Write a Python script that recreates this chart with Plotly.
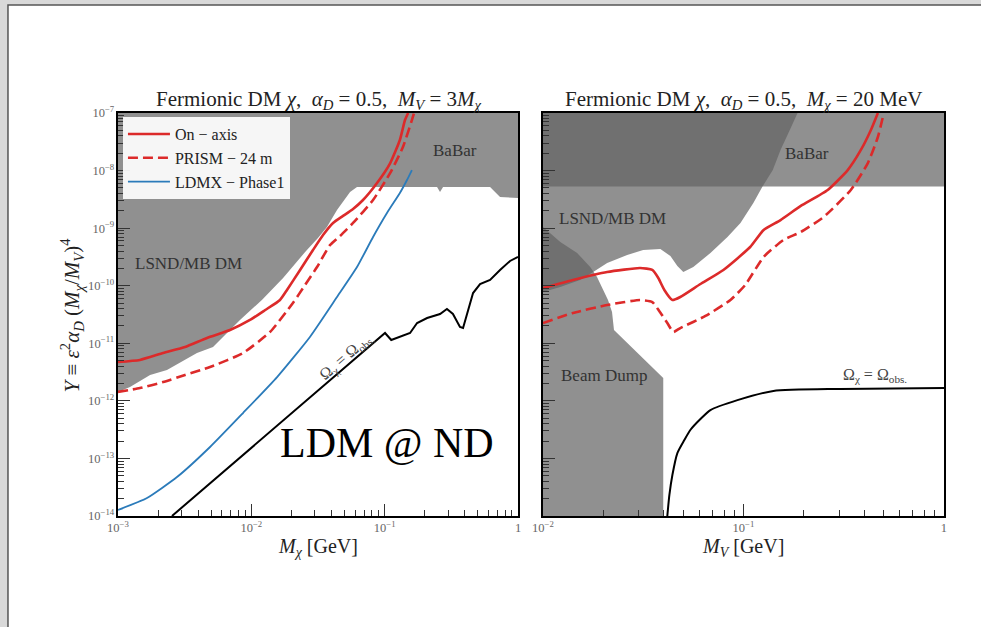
import plotly.graph_objects as go

# ---------------- Left panel: M_V = 3 M_chi ----------------
# Excluded region (LSND/MiniBooNE DM + BaBar), boundary polygon
excl_left_x = [1.0e-3, 1.23e-3, 1.74e-3, 2.33e-3, 3.91e-3, 5.16e-3, 8.22e-3, 1.20e-2,
               1.73e-2, 2.53e-2, 3.16e-2, 3.69e-2, 4.39e-2, 5.50e-2, 6.20e-2, 0.247,
               0.260, 0.274, 0.617, 0.733, 1.0, 1.0, 1.0e-3]
excl_left_y = [1.43e-12, 1.74e-12, 2.81e-12, 3.44e-12, 6.78e-12, 8.61e-12, 2.54e-11, 5.65e-11,
               1.36e-10, 3.85e-10, 6.75e-10, 1.05e-9, 2.07e-9, 4.25e-9, 5.19e-9, 5.19e-9,
               4.25e-9, 5.19e-9, 5.19e-9, 3.48e-9, 3.34e-9, 1.0e-7, 1.0e-7]

onaxis_left_x = [1.0e-3, 1.46e-3, 2.18e-3, 3.18e-3, 4.65e-3, 6.92e-3, 9.77e-3, 1.27e-2,
                 1.64e-2, 1.85e-2, 2.32e-2, 2.90e-2, 3.45e-2, 4.10e-2, 4.87e-2, 5.79e-2,
                 6.88e-2, 8.76e-2, 0.110, 0.130, 0.142, 0.150]
onaxis_left_y = [4.73e-12, 5.13e-12, 6.78e-12, 8.61e-12, 1.24e-11, 1.70e-11, 2.54e-11, 3.78e-11,
                 5.65e-11, 8.43e-11, 1.88e-10, 4.17e-10, 7.60e-10, 1.23e-9, 1.63e-9, 2.15e-9,
                 3.08e-9, 6.08e-9, 1.35e-8, 3.40e-8, 7.55e-8, 1.0e-7]

prism_left_x = [1.0e-3, 1.46e-3, 2.18e-3, 3.18e-3, 4.90e-3, 8.66e-3, 1.38e-2, 2.05e-2,
                2.53e-2, 3.11e-2, 3.89e-2, 4.62e-2, 5.79e-2, 8.18e-2, 0.110, 0.137,
                0.160, 0.166]
prism_left_y = [1.43e-12, 1.67e-12, 2.12e-12, 2.81e-12, 3.87e-12, 6.78e-12, 1.57e-11, 5.01e-11,
                1.03e-10, 2.11e-10, 5.09e-10, 7.29e-10, 1.23e-9, 3.08e-9, 9.08e-9, 2.56e-8,
                7.55e-8, 1.0e-7]

ldmx_x = [1.0e-3, 1.65e-3, 2.77e-3, 4.90e-3, 8.66e-3, 1.56e-2, 2.75e-2, 4.39e-2,
          6.20e-2, 8.18e-2, 0.104, 0.130, 0.147, 0.160]
ldmx_y = [1.27e-14, 2.05e-14, 4.75e-14, 1.58e-13, 6.15e-13, 2.59e-12, 1.29e-11, 6.37e-11,
          2.11e-10, 7.02e-10, 1.83e-9, 4.07e-9, 6.85e-9, 1.02e-8]

relic_left_x = [2.54e-3, 0.1006, 0.112, 0.130, 0.155, 0.175, 0.208, 0.260, 0.293,
                0.325, 0.367, 0.387, 0.415, 0.460, 0.519, 0.617, 0.733, 0.871, 1.0]
relic_left_y = [1.0e-14, 1.51e-11, 1.14e-11, 1.29e-11, 1.51e-11, 2.25e-11, 2.75e-11, 3.23e-11,
                3.94e-11, 3.23e-11, 1.92e-11, 1.84e-11, 3.36e-11, 7.46e-11, 1.07e-10, 1.26e-10,
                1.88e-10, 2.69e-10, 3.16e-10]

# ---------------- Right panel: M_chi = 20 MeV ----------------
babar_level = 5.3e-9
babar_right_x = [1.0e-2, 1.0, 1.0, 1.0e-2]
babar_right_y = [babar_level, babar_level, 1.0e-7, 1.0e-7]

lsnd_right_x = [1.0e-2, 1.0e-2, 1.22e-2, 1.53e-2, 1.78e-2, 2.09e-2, 2.63e-2, 3.16e-2, 3.85e-2,
                4.32e-2, 4.68e-2, 5.01e-2, 5.62e-2, 6.84e-2, 8.32e-2, 9.66e-2, 0.112, 0.124,
                0.140, 0.153, 0.172, 0.186]
lsnd_right_y = [1.0e-7, 7.78e-11, 9.51e-11, 1.26e-10, 1.73e-10, 2.48e-10, 3.41e-10, 4.17e-10,
                4.34e-10, 3.28e-10, 2.20e-10, 1.73e-10, 2.11e-10, 3.70e-10, 7.02e-10, 1.23e-9,
                2.74e-9, 5.19e-9, 1.02e-8, 2.28e-8, 5.48e-8, 1.0e-7]

beamdump_x = [1.0e-2, 1.22e-2, 1.48e-2, 1.72e-2, 1.86e-2, 2.0e-2, 2.11e-2, 2.21e-2, 2.26e-2,
              3.98e-2, 3.98e-2, 1.0e-2]
beamdump_y = [1.05e-9, 5.74e-10, 3.70e-10, 2.11e-10, 1.42e-10, 8.43e-11, 5.65e-11, 3.49e-11,
              1.70e-11, 2.49e-12, 1.0e-14, 1.0e-14]

onaxis_right_x = [1.0e-2, 1.41e-2, 2.09e-2, 3.05e-2, 3.51e-2, 3.76e-2, 4.03e-2, 4.42e-2,
                  4.84e-2, 6.10e-2, 7.94e-2, 0.108, 0.126, 0.153, 0.193, 0.263, 0.331,
                  0.385, 0.432, 0.468]
onaxis_right_y = [9.12e-11, 1.26e-10, 1.73e-10, 2.03e-10, 1.88e-10, 1.36e-10, 8.43e-11, 5.65e-11,
                  6.37e-11, 1.07e-10, 1.88e-10, 4.70e-10, 9.29e-10, 1.38e-9, 2.43e-9, 4.60e-9,
                  1.02e-8, 2.28e-8, 5.07e-8, 1.0e-7]

prism_right_x = [1.0e-2, 1.41e-2, 2.09e-2, 3.05e-2, 3.51e-2, 3.80e-2, 4.17e-2, 4.47e-2,
                 4.84e-2, 6.46e-2, 8.61e-2, 0.102, 0.126, 0.158, 0.193, 0.251, 0.343,
                 0.417, 0.468, 0.501]
prism_right_y = [2.25e-11, 3.36e-11, 4.62e-11, 5.65e-11, 5.21e-11, 3.64e-11, 2.25e-11, 1.57e-11,
                 1.84e-11, 2.98e-11, 5.65e-11, 1.03e-10, 3.16e-10, 6.22e-10, 8.57e-10, 1.56e-9,
                 4.60e-9, 1.35e-8, 3.83e-8, 1.0e-7]

relic_right_x = [4.17e-2, 4.27e-2, 4.42e-2, 4.68e-2, 5.07e-2, 5.43e-2, 6.10e-2, 6.84e-2,
                 9.33e-2, 0.141, 0.305, 1.0]
relic_right_y = [1.0e-14, 2.32e-14, 5.15e-14, 1.24e-13, 2.09e-13, 3.12e-13, 4.84e-13, 6.93e-13,
                 1.03e-12, 1.49e-12, 1.61e-12, 1.67e-12]

# ---------------- Styling ----------------
SERIF = "Liberation Serif"
RED = "#dc2a2a"
BLUE = "#2b7bba"
FILL = "rgba(98,98,98,0.71)"

fig = go.Figure()


def region(x, y, xa, ya):
    fig.add_trace(go.Scatter(x=x, y=y, mode="lines", fill="toself", fillcolor=FILL,
                             line=dict(width=0), hoverinfo="skip", showlegend=False,
                             xaxis=xa, yaxis=ya))


region(excl_left_x, excl_left_y, "x", "y")
region(babar_right_x, babar_right_y, "x2", "y2")
region(lsnd_right_x, lsnd_right_y, "x2", "y2")
region(beamdump_x, beamdump_y, "x2", "y2")

# relic-density lines
fig.add_trace(go.Scatter(x=relic_left_x, y=relic_left_y, mode="lines",
                         line=dict(color="black", width=2), showlegend=False))
fig.add_trace(go.Scatter(x=relic_right_x, y=relic_right_y, mode="lines",
                         line=dict(color="black", width=2, shape="spline", smoothing=0.6),
                         showlegend=False, xaxis="x2", yaxis="y2"))

# sensitivity curves
fig.add_trace(go.Scatter(x=onaxis_left_x, y=onaxis_left_y, mode="lines", name="On − axis",
                         line=dict(color=RED, width=2.6, shape="spline", smoothing=0.5)))
fig.add_trace(go.Scatter(x=prism_left_x, y=prism_left_y, mode="lines", name="PRISM − 24 m",
                         line=dict(color=RED, width=2.6, dash="10px,5px", shape="spline",
                                   smoothing=0.5)))
fig.add_trace(go.Scatter(x=ldmx_x, y=ldmx_y, mode="lines", name="LDMX − Phase1",
                         line=dict(color=BLUE, width=1.8, shape="spline", smoothing=0.5)))
fig.add_trace(go.Scatter(x=onaxis_right_x, y=onaxis_right_y, mode="lines", showlegend=False,
                         line=dict(color=RED, width=2.6, shape="spline", smoothing=0.5),
                         xaxis="x2", yaxis="y2"))
fig.add_trace(go.Scatter(x=prism_right_x, y=prism_right_y, mode="lines", showlegend=False,
                         line=dict(color=RED, width=2.6, dash="10px,5px", shape="spline",
                                   smoothing=0.5),
                         xaxis="x2", yaxis="y2"))

tick_font = dict(family=SERIF, size=10, color="#666")
minor = dict(ticks="inside", ticklen=6, tickcolor="#333", tickwidth=1, dtick="D1",
             showgrid=False)
common = dict(type="log", dtick=1, ticks="inside", ticklen=12, tickwidth=1.2,
              tickcolor="#333", showline=True, linecolor="black", linewidth=1.6,
              mirror=True, showgrid=False, zeroline=False, exponentformat="power",
              tickfont=tick_font, minor=minor)

fig.update_layout(
    width=981, height=627, autosize=False,
    margin=dict(l=118, r=37, t=113, b=111),
    paper_bgcolor="#d9d9d9", plot_bgcolor="white",
    font=dict(family=SERIF, color="#222"),
    xaxis=dict(range=[-3, 0], domain=[0, 0.4843], anchor="y", **common),
    yaxis=dict(range=[-14, -7], domain=[0, 1], anchor="x", **common),
    xaxis2=dict(range=[-2, 0], domain=[0.5145, 1], anchor="y2", **common),
    yaxis2=dict(range=[-14, -7], domain=[0, 1], anchor="x2", showticklabels=False,
                **common),
    legend=dict(x=0.006, y=0.99, xanchor="left", yanchor="top",
                bgcolor="rgba(255,255,255,0.92)", borderwidth=0, itemwidth=42,
                font=dict(family=SERIF, size=16, color="#222"), tracegroupgap=0),
    showlegend=True,
)

# white page with a dark edge
fig.add_shape(type="rect", xref="paper", yref="paper", x0=-0.1332, x1=1.2, y0=-0.5, y1=1.268,
              fillcolor="white", line=dict(color="#555", width=1.5), layer="below")

ann = []
title_font = dict(family=SERIF, size=21, color="#222")
ann.append(dict(xref="paper", yref="paper", x=0.2433, y=1.032, xanchor="center",
                yanchor="middle",
                text="Fermionic DM <i>χ</i>,  <i>α<sub>D</sub></i> = 0.5,  "
                     "<i>M<sub>V</sub></i> = 3<i>M<sub>χ</sub></i>",
                showarrow=False, font=title_font))
ann.append(dict(xref="paper", yref="paper", x=0.7567, y=1.032, xanchor="center",
                yanchor="middle",
                text="Fermionic DM <i>χ</i>,  <i>α<sub>D</sub></i> = 0.5,  "
                     "<i>M<sub>χ</sub></i> = 20 MeV",
                showarrow=False, font=title_font))
ann.append(dict(xref="paper", yref="paper", x=0.2421, y=-0.079, xanchor="center",
                yanchor="middle", text="<i>M<sub>χ</sub></i> [GeV]", showarrow=False,
                font=dict(family=SERIF, size=20, color="#222")))
ann.append(dict(xref="paper", yref="paper", x=0.7567, y=-0.079, xanchor="center",
                yanchor="middle", text="<i>M<sub>V</sub></i> [GeV]", showarrow=False,
                font=dict(family=SERIF, size=20, color="#222")))
ann.append(dict(xref="paper", yref="paper", x=-0.0557, y=0.50, xanchor="center",
                yanchor="middle", textangle=-90,
                text="<i>Y</i> ≡ <i>ε</i><sup>2</sup><i>α<sub>D</sub></i> "
                     "(<i>M<sub>χ</sub></i>/<i>M<sub>V</sub></i>)<sup>4</sup>",
                showarrow=False, font=dict(family=SERIF, size=21, color="#222")))

lab_font = dict(family=SERIF, size=17, color="#333")
ann.append(dict(xref="x", yref="y", x=-0.4725, y=-7.643, text="BaBar", showarrow=False,
                font=lab_font))
ann.append(dict(xref="x", yref="y", x=-2.475, y=-9.606, text="LSND/MB DM", showarrow=False,
                font=lab_font))
ann.append(dict(xref="x2", yref="y2", x=-0.685, y=-7.695, text="BaBar", showarrow=False,
                font=lab_font))
ann.append(dict(xref="x2", yref="y2", x=-1.655, y=-8.824, text="LSND/MB DM", showarrow=False,
                font=lab_font))
ann.append(dict(xref="x2", yref="y2", x=-1.6975, y=-11.551, text="Beam Dump", showarrow=False,
                font=lab_font))

omega_font = dict(family=SERIF, size=16, color="#444")
ann.append(dict(xref="x", yref="y", x=-1.29, y=-11.221, textangle=-40.7,
                text="Ω<sub>χ</sub> = Ω<sub>obs.</sub>", showarrow=False, font=omega_font))
ann.append(dict(xref="x2", yref="y2", x=-0.345, y=-11.551,
                text="Ω<sub>χ</sub> = Ω<sub>obs.</sub>", showarrow=False, font=omega_font))

ann.append(dict(xref="x", yref="y", x=-0.9825, y=-12.732, text="LDM @ ND", showarrow=False,
                font=dict(family=SERIF, size=42, color="black")))

fig.update_layout(annotations=ann)

fig.write_html("out.html")
